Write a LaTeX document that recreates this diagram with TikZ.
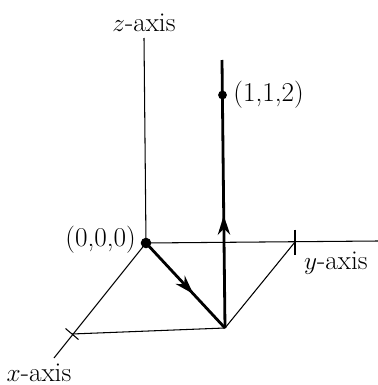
\documentclass[tikz,border=0pt]{standalone}
\usepackage{tikz}
\usetikzlibrary{arrows.meta, decorations.markings}

\begin{document}
\begin{tikzpicture}[
    font=\fontsize{15.5}{18}\selectfont,
    axis/.style={line width=0.6pt},
    pth/.style={line width=1.6pt, postaction={decorate},
        decoration={markings, mark=at position #1 with {\arrow{Stealth[length=11pt, width=7pt]}}}},
    tck/.style={line width=0.6pt},
    dot/.style={circle, fill=black, inner sep=0pt, minimum size=5pt},
]
\useasboundingbox (-2.92,-2.84) rectangle (4.64,4.86);

\coordinate (o) at (0,0);
\coordinate (zend) at (-0.04,4.1);
\coordinate (yend) at (4.64,0.04);
\coordinate (xend) at (-1.84,-2.3);
\coordinate (ytick) at (2.98,0.02);
\coordinate (xtick) at (-1.48,-1.82);
\coordinate (p) at (1.58,-1.7);
\coordinate (top) at (1.52,3.66);
\node[dot] (q) at (1.53,2.96) {};
\node[dot, minimum size=6pt] (on) at (o) {};

% axes
\draw[axis] (o) -- (zend) node[above=0pt] (zl) {$z$-axis};
\draw[axis] (o) -- (yend);
\draw[axis] (o) -- (xend);
\node (yl) at (3.8,-0.4) {$y$-axis};
\node (xl) at (-2.14,-2.6) {$x$-axis};
\node[anchor=east] (ol) at (-0.08,0.07) {(0,0,0)};
\node[anchor=west] (ql) at (q.east) {(1,1,2)};

% ticks
\draw[tck] ([yshift=0.25cm]ytick) -- ([yshift=-0.25cm]ytick);
\draw[tck] ([shift={(-0.13,0.11)}]xtick) -- ([shift={(0.13,-0.11)}]xtick);

% square in the xy-plane
\draw[axis] (xtick) -- (p) -- (ytick);

% path
\draw[pth=0.6] (o) -- (p);
\draw[pth=0.42] (p) -- (top);
\end{tikzpicture}
\end{document}
